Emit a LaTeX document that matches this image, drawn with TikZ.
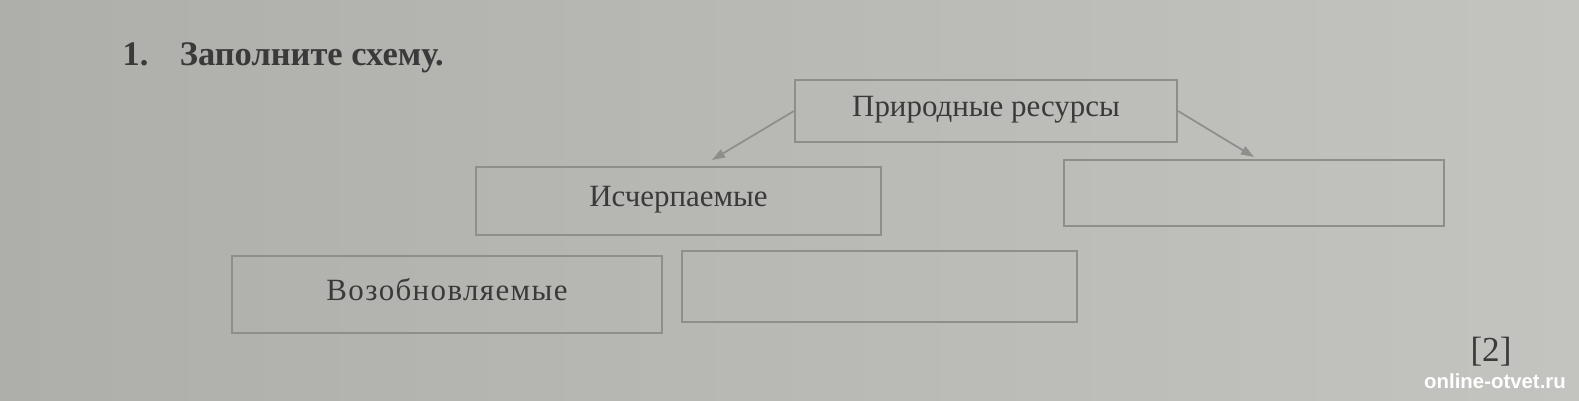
\documentclass[tikz,border=0pt]{standalone}
\usepackage{fontspec}
\setmainfont{Liberation Serif}
\newfontfamily\wmfont{Liberation Sans}
\usetikzlibrary{positioning,arrows.meta}

\definecolor{paper}{HTML}{C3C3C0}
\definecolor{paperdark}{HTML}{AEAEAB}
\definecolor{frame}{HTML}{8E8E8C}
\definecolor{ink}{HTML}{3A3A3A}

\tikzset{
  box/.style = {draw=frame, line width=0.6pt, inner sep=0pt,
    minimum width=#1, minimum height=0.66cm, text depth=0.1cm,
    font=\fontsize{8.8}{10}\selectfont, text=ink},
  link/.style = {draw=frame, line width=0.5pt,
    -{Triangle[length=0.13cm,width=0.09cm]}},
  title/.style = {font=\bfseries\fontsize{9.8}{12}\selectfont, text=ink},
}

\begin{document}
\begin{tikzpicture}
  % photographed sheet
  \fill[left color=paperdark, right color=paper] (0,0) rectangle (15.79,4.00);
  \useasboundingbox (0,0) rectangle (15.79,4.00);

  \node[title, anchor=base west, inner sep=0pt] (num) at (1.22,3.35) {1.};
  \node[title, inner sep=0pt, base right=0.3cm of num] (task) {Заполните схему.};

  \node[box=3.82cm, minimum height=0.62cm] (res) at (9.86,2.89) {Природные ресурсы};
  \node[box=4.05cm, minimum height=0.68cm] (exh) at (6.785,1.99) {Исчерпаемые};
  \node[box=3.80cm] (blank1) at (12.54,2.07) {};
  \node[box=4.30cm, minimum height=0.77cm] (ren) at (4.47,1.055)
    {\addfontfeature{LetterSpace=4.5}Возобновляемые};
  \node[box=3.95cm, minimum height=0.71cm] (blank2) at (8.795,1.135) {};

  \coordinate (tipL) at (7.12,2.40);
  \coordinate (tipR) at (12.54,2.43);
  \draw[link] (res.west) -- (tipL);
  \draw[link] (res.east) -- (tipR);

  \node[text=ink, font=\fontsize{10}{12}\selectfont] (pts) at (14.91,0.48) {[2]};
  \node[text=white, font=\wmfont\bfseries\fontsize{5.8}{7}\selectfont] (wm) at (14.95,0.19) {online-otvet.ru};
\end{tikzpicture}
\end{document}
